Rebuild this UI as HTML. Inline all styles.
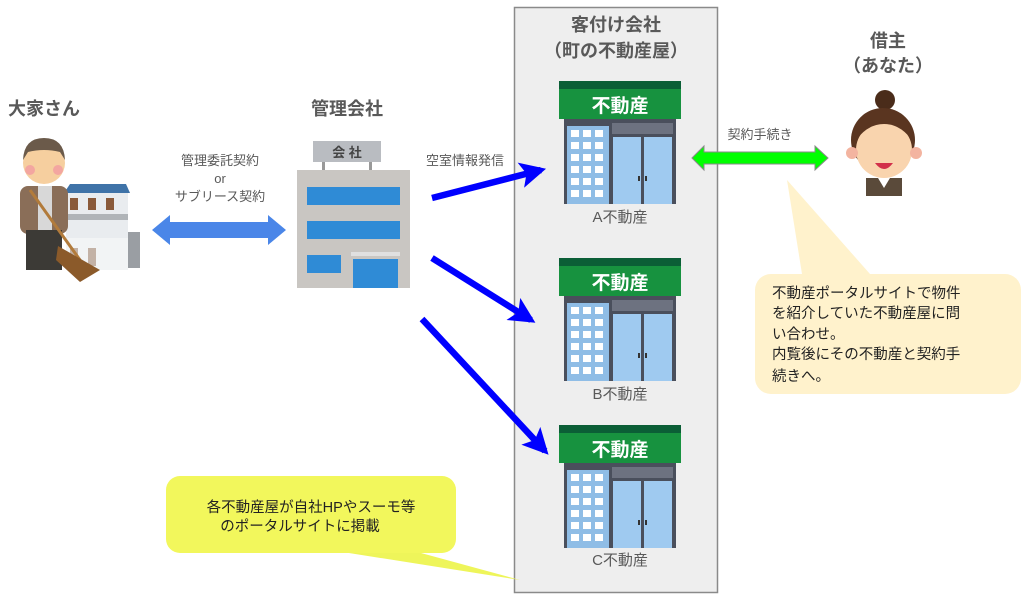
<!DOCTYPE html>
<html><head><meta charset="utf-8"><style>
html,body{margin:0;padding:0;background:#fff;}
body{width:1024px;height:596px;overflow:hidden;font-family:"Liberation Sans","Noto Sans CJK JP",sans-serif;}
</style></head><body>
<svg width="1024" height="596" viewBox="0 0 1024 596" xmlns="http://www.w3.org/2000/svg" font-family="Liberation Sans, Noto Sans CJK JP, sans-serif">
<defs>
<marker id="ah" markerWidth="4" markerHeight="4" refX="3.2" refY="2" orient="auto" markerUnits="strokeWidth">
<path d="M0,0 L4,2 L0,4 L0.9,2 Z" fill="#0000ff"/>
</marker>
<g id="shop">
<rect x="0" y="0" width="122" height="8" fill="#0b5e36"/>
<rect x="0" y="8" width="122" height="30" fill="#17923f"/>
<text x="61" y="31" text-anchor="middle" font-size="19" font-weight="bold" fill="#fff">不動産</text>
<rect x="5" y="38" width="112" height="85" fill="#4a4f5c"/>
<rect x="8" y="45" width="42" height="78" fill="#8fbde6"/>
<g fill="#fff">
<rect x="12" y="49" width="8" height="7"/><rect x="24" y="49" width="8" height="7"/><rect x="36" y="49" width="8" height="7"/>
<rect x="12" y="61" width="8" height="7"/><rect x="24" y="61" width="8" height="7"/><rect x="36" y="61" width="8" height="7"/>
<rect x="12" y="73" width="8" height="7"/><rect x="24" y="73" width="8" height="7"/><rect x="36" y="73" width="8" height="7"/>
<rect x="12" y="85" width="8" height="7"/><rect x="24" y="85" width="8" height="7"/><rect x="36" y="85" width="8" height="7"/>
<rect x="12" y="97" width="8" height="7"/><rect x="24" y="97" width="8" height="7"/><rect x="36" y="97" width="8" height="7"/>
<rect x="12" y="109" width="8" height="7"/><rect x="24" y="109" width="8" height="7"/><rect x="36" y="109" width="8" height="7"/>
</g>
<rect x="53" y="42" width="61" height="11" fill="#6d7280"/>
<rect x="54" y="56" width="28" height="67" fill="#9fcaf0"/>
<rect x="85" y="56" width="28" height="67" fill="#9fcaf0"/>
<rect x="79" y="95" width="2" height="5" fill="#333"/><rect x="86" y="95" width="2" height="5" fill="#333"/>
</g>
</defs>

<!-- panel -->
<rect x="514.5" y="7.5" width="203" height="585" fill="#eeeeee" stroke="#8a8a8a" stroke-width="1.5"/>
<text x="616" y="31" text-anchor="middle" font-size="18" font-weight="bold" fill="#595959">客付け会社</text>
<text x="616" y="57" text-anchor="middle" font-size="18" font-weight="bold" fill="#595959">（町の不動産屋）</text>

<use href="#shop" x="559" y="81"/>
<use href="#shop" x="559" y="258"/>
<use href="#shop" x="559" y="425"/>
<text x="620" y="222" text-anchor="middle" font-size="15" fill="#595959">A不動産</text>
<text x="620" y="399" text-anchor="middle" font-size="15" fill="#595959">B不動産</text>
<text x="620" y="565" text-anchor="middle" font-size="15" fill="#595959">C不動産</text>

<!-- titles -->
<text x="8" y="115" font-size="18" font-weight="bold" fill="#595959">大家さん</text>
<text x="311" y="115" font-size="18" font-weight="bold" fill="#595959">管理会社</text>
<text x="888" y="47" text-anchor="middle" font-size="18" font-weight="bold" fill="#595959">借主</text>
<text x="888" y="72" text-anchor="middle" font-size="18" font-weight="bold" fill="#595959">（あなた）</text>

<!-- landlord figure -->
<rect x="66" y="192" width="62" height="46" fill="#e9ecef"/>
<path d="M64,193 L130,193 L126,184 L70,184 Z" fill="#3f73a8"/>
<rect x="70" y="198" width="8" height="12" fill="#8a5a3a"/><rect x="88" y="198" width="8" height="12" fill="#8a5a3a"/><rect x="106" y="198" width="8" height="12" fill="#8a5a3a"/>
<rect x="66" y="214" width="62" height="6" fill="#b0b4b8"/>
<rect x="70" y="248" width="8" height="18" fill="#8a5a3a"/><rect x="88" y="248" width="8" height="18" fill="#8a5a3a"/>
<rect x="66" y="238" width="62" height="32" fill="#e9ecef" opacity="0.6"/>
<rect x="128" y="232" width="12" height="36" fill="#9a9ea3"/>
<circle cx="44" cy="163" r="21" fill="#f6cf9f"/>
<path d="M23,160 Q24,138 44,138 Q64,138 65,160 L60,152 Q44,148 28,152 Z" fill="#6b5a4a"/>
<circle cx="30" cy="170" r="5" fill="#f3a6a0"/><circle cx="58" cy="170" r="5" fill="#f3a6a0"/>
<rect x="20" y="186" width="48" height="48" rx="8" fill="#8a6e58"/>
<rect x="38" y="186" width="14" height="44" fill="#d8d8d8"/>
<rect x="26" y="230" width="36" height="40" fill="#3c3a36"/>
<path d="M30,190 L80,260" stroke="#b27b3b" stroke-width="3"/>
<path d="M58,246 L100,270 L80,282 L56,260 Z" fill="#8b5a2a"/>

<!-- company building -->
<rect x="313" y="141" width="68" height="21" fill="#b9bcc1"/>
<text x="347" y="157" text-anchor="middle" font-size="13" font-weight="bold" fill="#444">会 社</text>
<rect x="322" y="162" width="3" height="8" fill="#999"/><rect x="369" y="162" width="3" height="8" fill="#999"/>
<rect x="297" y="170" width="113" height="118" fill="#c9c6c2"/>
<rect x="307" y="187" width="93" height="18" fill="#2f8bd6"/>
<rect x="307" y="221" width="93" height="18" fill="#2f8bd6"/>
<rect x="307" y="255" width="34" height="18" fill="#2f8bd6"/>
<rect x="351" y="252" width="49" height="4" fill="#e0e0e0"/>
<rect x="353" y="259" width="45" height="29" fill="#2f8bd6"/>

<!-- blue double arrow -->
<path d="M152,230 L170,215 L170,222 L268,222 L268,215 L286,230 L268,245 L268,238 L170,238 L170,245 Z" fill="#4a86e8"/>
<text x="220" y="165" text-anchor="middle" font-size="13" fill="#595959">管理委託契約</text>
<text x="220" y="183" text-anchor="middle" font-size="13" fill="#595959">or</text>
<text x="220" y="201" text-anchor="middle" font-size="13" fill="#595959">サブリース契約</text>

<!-- blue arrows -->
<text x="465" y="165" text-anchor="middle" font-size="13" fill="#595959">空室情報発信</text>
<line x1="432" y1="198" x2="541" y2="170" stroke="#0000ff" stroke-width="6.5" marker-end="url(#ah)"/>
<line x1="432" y1="258" x2="531" y2="320" stroke="#0000ff" stroke-width="6.5" marker-end="url(#ah)"/>
<line x1="422" y1="319" x2="545" y2="451" stroke="#0000ff" stroke-width="6.5" marker-end="url(#ah)"/>

<!-- green arrow -->
<text x="760" y="139" text-anchor="middle" font-size="13" fill="#595959">契約手続き</text>
<path d="M692,158 L704,146 L704,152 L815,152 L815,146 L828,158 L815,170 L815,164 L704,164 L704,170 Z" fill="#00ff00" stroke="#8a8a8a" stroke-width="1"/>

<!-- renter -->
<circle cx="885" cy="100" r="10" fill="#4a2c1a"/>
<circle cx="883" cy="140" r="32" fill="#5a3520"/>
<circle cx="884" cy="150" r="28" fill="#f9d4ae"/>
<path d="M856,140 Q860,110 884,110 Q908,110 912,140 Q900,124 884,124 Q868,124 856,140 Z" fill="#5a3520"/>
<circle cx="852" cy="153" r="6" fill="#f3b4a0"/><circle cx="916" cy="153" r="6" fill="#f3b4a0"/>
<path d="M875,163 Q884,175 893,163 Z" fill="#d2304a"/>
<rect x="866" y="178" width="36" height="18" fill="#5a4a3a"/>
<path d="M878,178 L884,188 L890,178 Z" fill="#fff"/>

<!-- right callout -->
<path d="M787,180 L802,274 L870,274 Z" fill="#fff2cc"/>
<rect x="755" y="274" width="266" height="120" rx="16" fill="#fff2cc"/>
<g font-size="14.5" fill="#222">
<text x="772" y="298">不動産ポータルサイトで物件</text>
<text x="772" y="318">を紹介していた不動産屋に問</text>
<text x="772" y="339">い合わせ。</text>
<text x="772" y="359">内覧後にその不動産と契約手</text>
<text x="772" y="381">続きへ。</text>
</g>

<!-- bottom callout -->
<path d="M330,550 L520,580 L410,550 Z" fill="#eef55a"/>
<rect x="166" y="476" width="290" height="77" rx="14" fill="#f2f75c"/>
<text x="311" y="512" text-anchor="middle" font-size="14.5" fill="#222">各不動産屋が自社HPやスーモ等</text>
<text x="300" y="531" text-anchor="middle" font-size="14.5" fill="#222">のポータルサイトに掲載</text>
</svg>
</body></html>
